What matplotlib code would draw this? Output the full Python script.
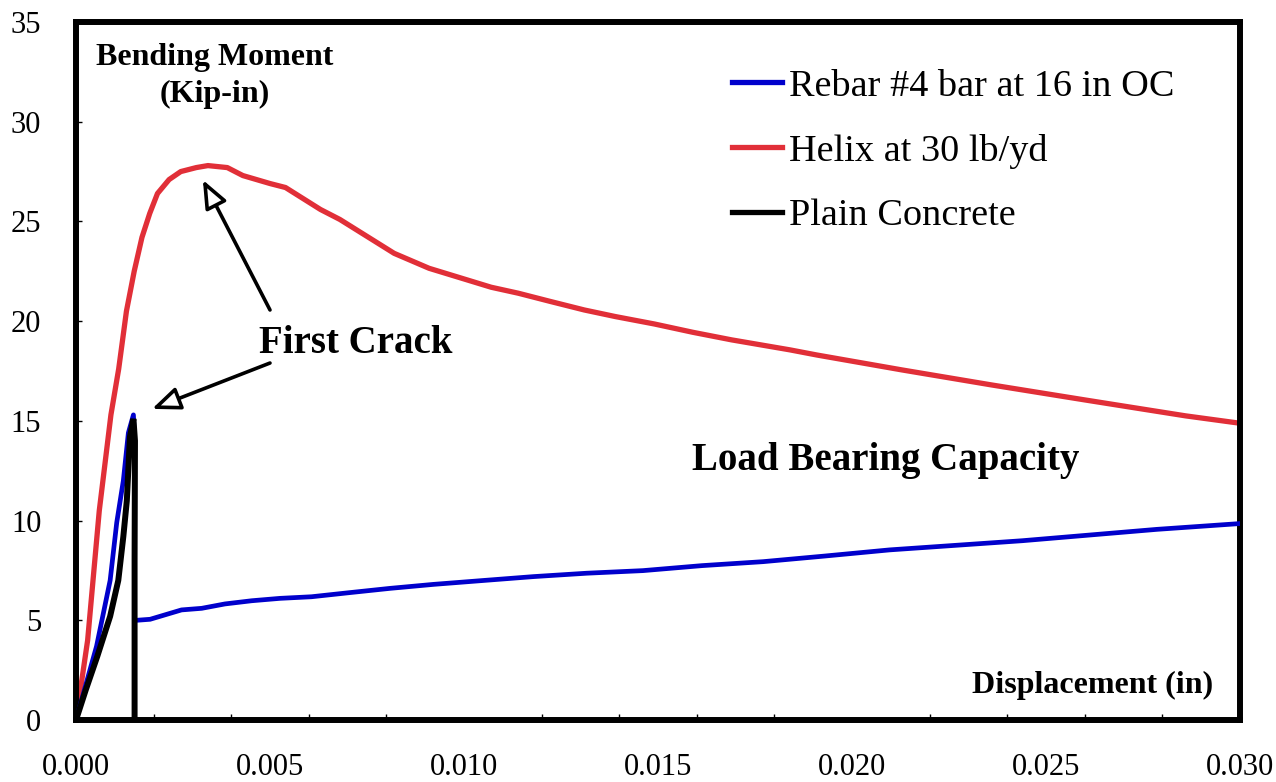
import matplotlib
matplotlib.use("Agg")
import matplotlib.pyplot as plt
from matplotlib.ticker import MultipleLocator, FormatStrFormatter

plt.rcParams['font.family'] = ['Liberation Serif', 'DejaVu Serif']

# ---- data ----
rebar_x = [0.0, 0.00053, 0.00088, 0.00105, 0.00122, 0.00135, 0.00148, 0.00151, 0.00151,
           0.00156, 0.00191, 0.00272, 0.00324, 0.00384, 0.00453, 0.00526, 0.00607,
           0.00702, 0.00809, 0.00921, 0.01046, 0.01179, 0.01316, 0.01461, 0.01613,
           0.01771, 0.01929, 0.02097, 0.02439, 0.02786, 0.0300]
rebar_y = [0.0, 3.7, 7.0, 9.9, 12.0, 14.4, 15.3, 14.0, 5.0,
           5.0, 5.05, 5.52, 5.60, 5.82, 5.98, 6.10, 6.18,
           6.38, 6.60, 6.80, 6.99, 7.19, 7.36, 7.49, 7.74,
           7.94, 8.22, 8.53, 8.99, 9.56, 9.85]

helix_x = [0.0, 0.0003, 0.0006, 0.0009, 0.0011, 0.0013, 0.0015, 0.0017, 0.0019, 0.0021,
           0.0024, 0.0027, 0.0031, 0.0034, 0.0039, 0.0043, 0.0050, 0.0054, 0.0063,
           0.0068, 0.0082, 0.0091, 0.0107, 0.0114, 0.0122, 0.0131, 0.0139, 0.0149,
           0.0159, 0.0169, 0.0184, 0.0191, 0.0213, 0.0236, 0.0260, 0.0272, 0.0286, 0.0300]
helix_y = [0.0, 4.0, 10.5, 15.3, 17.6, 20.5, 22.5, 24.2, 25.4, 26.4,
           27.1, 27.5, 27.7, 27.8, 27.7, 27.3, 26.9, 26.7, 25.6,
           25.1, 23.4, 22.65, 21.7, 21.4, 21.0, 20.56, 20.23, 19.86,
           19.44, 19.06, 18.56, 18.30, 17.55, 16.8, 16.05, 15.68, 15.25, 14.88]

plain_x = [0.0, 0.00025, 0.00055, 0.00088, 0.00109, 0.00122, 0.00131, 0.00139, 0.00148,
           0.00152, 0.00151, 0.00151]
plain_y = [0.0, 1.5, 3.2, 5.2, 7.0, 9.2, 11.0, 14.2, 15.1,
           14.0, 8.0, 0.0]

labels = ["Rebar #4 bar at 16 in OC", "Helix at 30 lb/yd", "Plain Concrete"]
x_ticks = [0.000, 0.005, 0.010, 0.015, 0.020, 0.025, 0.030]
y_ticks = [0, 5, 10, 15, 20, 25, 30, 35]

# ---- figure ----
W, H = 1276, 782
fig = plt.figure(figsize=(W / 100, H / 100), dpi=100)
L, R, T, B = 76, 1240, 22, 720
ax = fig.add_axes([L / W, 1 - B / H, (R - L) / W, (B - T) / H])

ax.plot(rebar_x, rebar_y, color='#0000CC', lw=3.4, label=labels[0], solid_joinstyle='round', zorder=3)
ax.plot(helix_x, helix_y, color='#E12F38', lw=3.8, label=labels[1], solid_joinstyle='round', zorder=2)
ax.plot(plain_x, plain_y, color='black', lw=4.3, label=labels[2], solid_joinstyle='miter', zorder=4)

ax.set_xlim(0, 0.030)
ax.set_ylim(0, 35)
ax.set_xticks(x_ticks)
ax.set_yticks(y_ticks)
ax.xaxis.set_major_formatter(FormatStrFormatter('%.3f'))
ax.xaxis.set_minor_locator(MultipleLocator(0.002))
ax.tick_params(axis='x', which='major', length=0, pad=24, labelsize=22)
ax.tick_params(axis='x', which='minor', direction='in', length=4, width=1)
ax.tick_params(axis='y', which='major', direction='in', length=4, width=1, pad=25, labelsize=22)

for s in ax.spines.values():
    s.set_linewidth(4.3)
    s.set_color('black')

leg = ax.legend(loc='upper left', bbox_to_anchor=(0.5636, 0.9325), frameon=False,
                fontsize=27.5, borderaxespad=0, borderpad=0, handlelength=1.32,
                handletextpad=0.18, labelspacing=0.78)
for lh in leg.get_lines():
    lh.set_linewidth(3.8)

ax.text(0.1194, 0.9384, "Bending Moment", transform=ax.transAxes, ha='center', va='baseline',
        fontsize=23, fontweight='bold')
ax.text(0.1194, 0.8854, "(Kip-in)", transform=ax.transAxes, ha='center', va='baseline',
        fontsize=23, fontweight='bold')
ax.text(0.8733, 0.0387, "Displacement (in)", transform=ax.transAxes, ha='center', va='baseline',
        fontsize=23, fontweight='bold')
ax.text(0.6959, 0.3582, "Load Bearing Capacity", transform=ax.transAxes, ha='center', va='baseline',
        fontsize=28, fontweight='bold')
ax.text(0.2405, 0.5258, "First Crack", transform=ax.transAxes, ha='center', va='baseline',
        fontsize=28, fontweight='bold')

arrow_style = dict(arrowstyle='-|>,head_length=0.85,head_width=0.35', fc='white', ec='black',
                   lw=2.6, mutation_scale=20, shrinkA=0, shrinkB=0)
ax.annotate("", xy=(0.00327, 27.08), xytext=(0.00500, 20.56), arrowprops=arrow_style, zorder=5)
ax.annotate("", xy=(0.00196, 15.6), xytext=(0.00500, 17.9), arrowprops=arrow_style, zorder=5)

fig.savefig("out.png", dpi=100, facecolor='white')
